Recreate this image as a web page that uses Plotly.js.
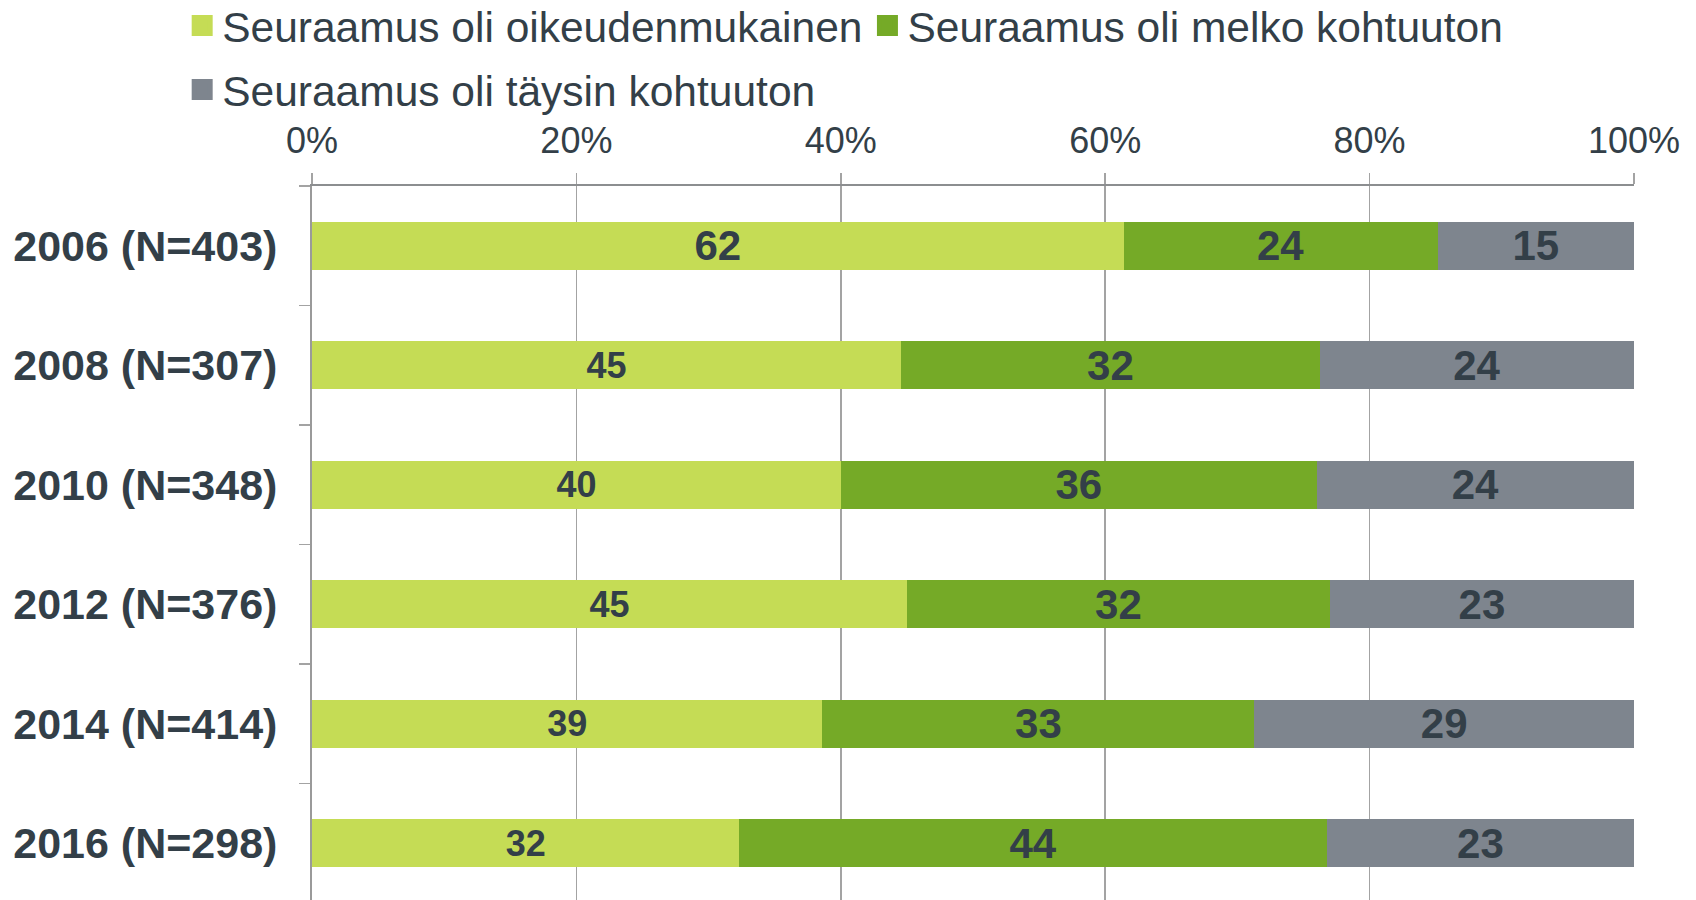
<!DOCTYPE html>
<html>
<head>
<meta charset="utf-8">
<script src="https://cdn.plot.ly/plotly-3.0.1.min.js"></script>
<style>html,body{margin:0;padding:0;background:#fff;}#chart{width:1696px;height:900px;}</style>
</head>
<body>
<div id="chart"></div>
<script>
const categories = ["2006 (N=403)", "2008 (N=307)", "2010 (N=348)", "2012 (N=376)", "2014 (N=414)", "2016 (N=298)"];
const seriesNames = ["Seuraamus oli oikeudenmukainen", "Seuraamus oli melko kohtuuton", "Seuraamus oli täysin kohtuuton"];
const fairValues = [62, 45, 40, 45, 39, 32];
const fairlyUnfairValues = [24, 32, 36, 32, 33, 44];
const totallyUnfairValues = [15, 24, 24, 23, 29, 23];
const tickValues = [0, 20, 40, 60, 80, 100];
const tickLabels = ["0%", "20%", "40%", "60%", "80%", "100%"];

const colors = ["#C5DC55", "#75AA27", "#7E858E"];
const textColor = "#333F48";
const font = "Liberation Sans, Arial, sans-serif";
const fairTextSizes = [42, 36, 36, 36, 36, 36];

function mk(name, vals, color, sizes) {
  return {
    type: "bar", orientation: "h", name: name, showlegend: false,
    y: categories, x: vals, text: vals.map(String),
    texttemplate: "%{text}", textposition: "inside", insidetextanchor: "middle",
    constraintext: "none", textangle: 0,
    insidetextfont: {family: font, size: sizes, color: textColor, weight: "bold"},
    marker: {color: color, line: {width: 0}},
    hoverinfo: "skip"
  };
}

// legend-only entries (no data points) so the legend swatches can be larger
function legendEntry(name, color, legendId) {
  return {
    type: "scatter", mode: "markers", name: name, legend: legendId,
    x: [null], y: [null], showlegend: true, hoverinfo: "skip",
    marker: {symbol: "square", size: 16, color: color, line: {width: 5, color: color}}
  };
}

const data = [
  mk(seriesNames[0], fairValues, colors[0], fairTextSizes),
  mk(seriesNames[1], fairlyUnfairValues, colors[1], 42),
  mk(seriesNames[2], totallyUnfairValues, colors[2], 42),
  legendEntry(seriesNames[0], colors[0], "legend"),
  legendEntry(seriesNames[1], colors[1], "legend"),
  legendEntry(seriesNames[2], colors[2], "legend2")
];

const legendFont = {family: font, size: 42.5, color: textColor};

const layout = {
  width: 1696, height: 900,
  paper_bgcolor: "#fff", plot_bgcolor: "#fff",
  margin: {l: 312, r: 62, t: 186, b: 0, autoexpand: false},
  barmode: "stack", barnorm: "percent", bargap: 0.6,
  font: {family: font, color: textColor},
  xaxis: {
    side: "top", range: [0, 100], tickvals: tickValues, ticktext: tickLabels,
    showgrid: true, gridcolor: "#A3A3A3", gridwidth: 1.5,
    showline: true, linecolor: "#8C8E90", linewidth: 2.5,
    ticks: "outside", ticklen: 11, tickcolor: "#A3A3A3", tickwidth: 1.5,
    tickfont: {family: font, size: 36, color: textColor},
    ticklabelstandoff: 5,
    zeroline: false, fixedrange: true
  },
  yaxis: {
    type: "category", range: [5.475, -0.5],
    tickson: "boundaries", ticks: "outside", ticklen: 11, tickcolor: "#A3A3A3", tickwidth: 1.5,
    showgrid: false, showline: true, linecolor: "#9A9A9A", linewidth: 2,
    tickfont: {family: font, size: 43, color: textColor, weight: "bold"},
    ticklabelstandoff: 24,
    zeroline: false, fixedrange: true
  },
  legend: {
    orientation: "h", x: -0.0982, xanchor: "left", y: 1.2725, yanchor: "top",
    font: legendFont, traceorder: "normal", bgcolor: "rgba(0,0,0,0)"
  },
  legend2: {
    orientation: "h", x: -0.0982, xanchor: "left", y: 1.183, yanchor: "top",
    font: legendFont, traceorder: "normal", bgcolor: "rgba(0,0,0,0)"
  },
  showlegend: true
};

Plotly.newPlot("chart", data, layout, {displayModeBar: false, staticPlot: true});
</script>
</body>
</html>
